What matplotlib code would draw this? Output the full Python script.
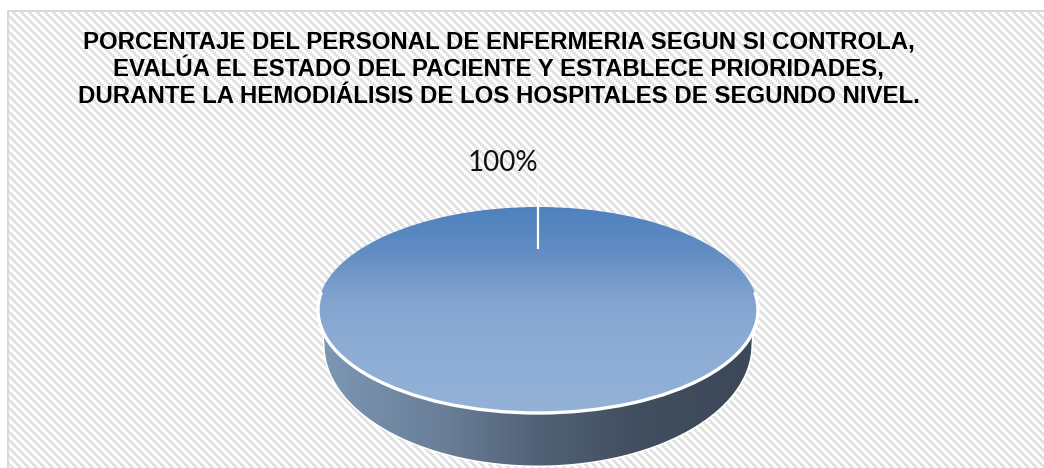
import numpy as np
import matplotlib
matplotlib.use("Agg")
import matplotlib.pyplot as plt
from matplotlib.patches import Arc, Polygon

categories = ["Sí"]
values = [100]
title_lines = [
    "PORCENTAJE DEL PERSONAL DE ENFERMERIA SEGUN SI CONTROLA,",
    "EVALÚA EL ESTADO DEL PACIENTE Y ESTABLECE PRIORIDADES,",
    "DURANTE LA HEMODIÁLISIS DE LOS HOSPITALES DE SEGUNDO NIVEL.",
]

W, H = 1044, 468
fig = plt.figure(figsize=(W / 100, H / 100), dpi=100, facecolor="white")

# hatched chart-area background
bg = fig.add_axes([0, 0, 1, 1])
yy, xx = np.mgrid[0:H, 0:W]
img = np.full((H, W, 3), 255, dtype=np.uint8)
stripe = ((xx // 2 - yy // 2) % 4) < 2
img[stripe] = (226, 226, 226)
img[:10, :] = 255
img[:, :7] = 255
img[10:12, 7:] = (217, 217, 217)
img[10:, 7:9] = (217, 217, 217)
bg.imshow(img, extent=(0, W, H, 0), interpolation="nearest", aspect="auto")
bg.set_xlim(0, W)
bg.set_ylim(H, 0)
bg.axis("off")

bg.text(498.5, 69, "\n".join(title_lines), ha="center", va="center", multialignment="center",
        family="Liberation Sans", fontweight="bold", fontsize=17.3, linespacing=1.17, color="black")

# pie axes: the unit circle maps to the ellipse of the tilted pie
cx, cy, a, b = 538, 310, 220, 103
LIM = 1.8
ax = fig.add_axes([(cx - LIM * a) / W, (H - cy - LIM * b) / H, 2 * LIM * a / W, 2 * LIM * b / H])
ax.patch.set_alpha(0)

# extruded side of the pie
t = np.radians(np.linspace(180, 360, 200))
arc = np.column_stack([0.97 * np.cos(t), -0.34 + 1.17 * np.sin(t)])
side_xy = np.vstack([[-0.975, -0.22], arc, [0.975, -0.22]])
ax.add_patch(Polygon(side_xy, closed=True, facecolor="none", edgecolor="white", lw=2.2, zorder=1,
                     joinstyle="round"))
side_pos = np.linspace(-1, 1, 440)
side_col = np.column_stack([
    np.interp(side_pos, [-1, -0.4, 0, 0.45, 1], [125, 105, 82, 65, 60]),
    np.interp(side_pos, [-1, -0.4, 0, 0.45, 1], [152, 125, 98, 78, 72]),
    np.interp(side_pos, [-1, -0.4, 0, 0.45, 1], [182, 150, 118, 95, 88]),
]).astype(np.uint8)[None, :, :]
side_im = ax.imshow(side_col, extent=(-1, 1, -1.6, 0), aspect="auto", interpolation="bilinear", zorder=1.5)
side_im.set_clip_path(Polygon(side_xy, closed=True, transform=ax.transData))

# the pie itself
wedges, _, autotexts = ax.pie(values, startangle=-90, radius=1, autopct="%.0f%%", pctdistance=1.43,
                              wedgeprops=dict(facecolor="none", edgecolor="none"),
                              textprops=dict(family="Lato", fontsize=20, color="#111111"))
ax.set_aspect("auto")
grad_y = np.linspace(-1, 1, 300)
# gradient keypoints run from the front of the pie (-1) to its back (+1)
grad_keys = [-1, -0.3, 0.1, 0.6, 1]
top_col = np.column_stack([
    np.interp(grad_y, grad_keys, [148, 140, 130, 95, 79]),
    np.interp(grad_y, grad_keys, [178, 172, 163, 140, 129]),
    np.interp(grad_y, grad_keys, [216, 212, 207, 195, 189]),
]).astype(np.uint8)[:, None, :]
top_im = ax.imshow(top_col, extent=(-1, 1, -1, 1), origin="lower", aspect="auto", interpolation="bilinear", zorder=2)
top_im.set_clip_path(wedges[0])
ax.add_patch(Arc((0, 0), 2, 2, theta1=170, theta2=370, edgecolor="white", lw=2.4, zorder=3))
ax.plot([0, 0], [0.595, 1.0], color="white", lw=1.6, zorder=4, solid_capstyle="butt")
ax.plot([0, 0], [1.0, 1.28], color="white", lw=1.2, alpha=0.6, zorder=4, solid_capstyle="butt")
for txt in autotexts:
    txt.set_zorder(5)
    txt.set_ha("right")
ax.set_xlim(-LIM, LIM)
ax.set_ylim(-LIM, LIM)
ax.axis("off")

fig.savefig("out.png", dpi=100)
